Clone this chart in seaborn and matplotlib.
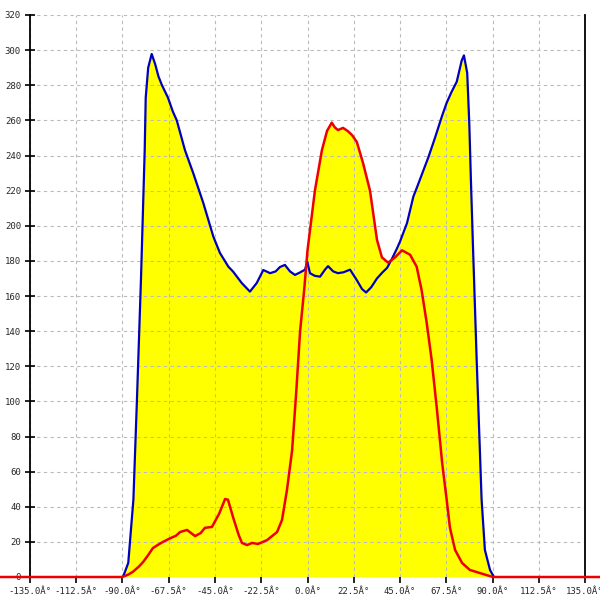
import matplotlib
matplotlib.use("Agg")
import matplotlib.pyplot as plt
import seaborn as sns
import pandas as pd

# ---- data ----
blue_x = [-90, -89.6, -87.2, -84.7, -83, -81, -79.2, -78.7, -77.5, -75.8, -74.1, -72.5, -70.8,
          -67.9, -65.5, -63.6, -59.6, -55.6, -50.7, -45.8, -42.6, -38.5, -36.2, -32, -28, -24.7,
          -21.5, -18.2, -15.5, -13.4, -11, -8.5, -6.1, -3.5, -1.2, -0.1, 1.2, 3.5, 6.1, 8.5, 10,
          12.5, 14.8, 17.5, 20.7, 24, 26.5, 28.5, 31, 33.8, 36.5, 38.7, 41, 43.5, 45, 48.4, 51.5,
          53.3, 58.8, 62, 65.3, 67.7, 70, 72.6, 75, 76.1, 77.7, 78.7, 79.5, 80.4, 82.3, 84.7,
          86.3, 88.8, 90.7]
blue_y = [0, 0.5, 8, 44, 100, 170, 243, 273, 290, 297.8, 292, 285, 280,
          273, 265, 260, 243, 230, 213, 193.8, 184.5, 176.7, 173.9, 167.4, 162.5, 167.4,
          174.8, 173, 174, 176.5, 177.7, 174, 172, 173.5, 175, 179.5, 173, 171.5, 171, 175, 177,
          174, 173, 173.5, 175, 169, 164, 162, 165, 170, 173.5, 176, 181, 187, 191, 201.5, 216.6,
          222, 239, 250, 262, 270, 276, 282, 294, 297, 287, 258.5, 226, 192, 123.6, 44,
          15.4, 4, 0]

red_x = [-180, -90, -87, -84.9, -82, -80, -77.5, -75.2, -72.5, -70.3, -66.9, -64, -62, -58.6,
         -54.7, -52, -49.9, -46.5, -43, -40.1, -38.7, -36.2, -33.5, -31.9, -29.4, -27, -24.1,
         -19.7, -14.8, -12.4, -10, -7.5, -5.5, -3.6, -1.5, 0, 3.6, 7, 9.5, 11.8, 13.3, 14.8,
         17.3, 19.5, 21.6, 24, 27, 30.4, 33.8, 36.2, 39.2, 42.6, 46, 49.9, 53.1, 55.5, 58,
         60.4, 63, 65.5, 67.7, 69.3, 71.8, 75.2, 79, 85.4, 90.2, 180]
red_y = [0, 0, 1.5, 3, 6, 8.5, 12.5, 16.5, 18.5, 20, 22, 23.5, 25.6, 26.8,
         23.3, 25, 28, 28.5, 36, 44.4, 44, 34, 24, 19.4, 18.2, 19.4, 18.8,
         21, 25.6, 32.5, 49.5, 72, 105, 140, 165, 186, 220, 243, 254, 258.7, 256, 254.5,
         255.7, 254, 251.7, 247.7, 235.8, 220, 192, 182, 179, 182, 186, 183.5, 176.7, 163.4, 144.6,
         123.6, 95, 65, 44, 28, 15.4, 8, 4, 1.7, 0, 0]

x_ticks = [-135, -112.5, -90, -67.5, -45, -22.5, 0, 22.5, 45, 67.5, 90, 112.5, 135]
x_tick_labels = ["-135.0Â°", "-112.5Â°", "-90.0Â°", "-67.5Â°", "-45.0Â°", "-22.5Â°", "0.0Â°",
                 "22.5Â°", "45.0Â°", "67.5Â°", "90.0Â°", "112.5Â°", "135.0Â°"]
y_ticks = [0, 20, 40, 60, 80, 100, 120, 140, 160, 180, 200, 220, 240, 260, 280, 300, 320]
y_tick_labels = [str(v) for v in y_ticks]

blue_df = pd.DataFrame({"x": blue_x, "y": blue_y})
red_df = pd.DataFrame({"x": red_x, "y": red_y})

sns.set_style("white")
plt.rcParams["font.family"] = ["DejaVu Sans Mono"]

fig = plt.figure(figsize=(6, 6), dpi=100)
ax = fig.add_axes([30 / 600, 23 / 600, 555 / 600, 562 / 600])

yellow = "#ffff00"
ax.fill_between(blue_df["x"], blue_df["y"], 0, color=yellow, linewidth=0, zorder=1)
ax.fill_between(red_df["x"], red_df["y"], 0, color=yellow, linewidth=0, zorder=1)

sns.lineplot(data=blue_df, x="x", y="y", sort=False, estimator=None, color="#0000c0",
             linewidth=1.6, ax=ax, zorder=3)
sns.lineplot(data=red_df, x="x", y="y", sort=False, estimator=None, color="#ee0000",
             linewidth=1.8, ax=ax, zorder=4, clip_on=False)

ax.set_xlim(-135, 135)
ax.set_ylim(0, 320)
ax.set_xticks(x_ticks)
ax.set_xticklabels(x_tick_labels)
ax.set_yticks(y_ticks)
ax.set_yticklabels(y_tick_labels)
ax.set_xlabel("")
ax.set_ylabel("")

ax.set_axisbelow("line")
ax.grid(True, color="#bbbbbb", linestyle=(0, (3, 3)), linewidth=0.8, zorder=2)

for side in ["top", "bottom"]:
    ax.spines[side].set_visible(False)
for side in ["left", "right"]:
    ax.spines[side].set_visible(True)
    ax.spines[side].set_color("black")
    ax.spines[side].set_linewidth(1.3)

ax.tick_params(axis="y", direction="inout", length=7, width=1.2, color="black",
               labelsize=6.5, pad=3, left=True, right=False)
ax.tick_params(axis="x", direction="out", length=4, width=1.2, color="black",
               labelsize=6.5, pad=3, bottom=True)

fig.savefig("out.png", dpi=100)
